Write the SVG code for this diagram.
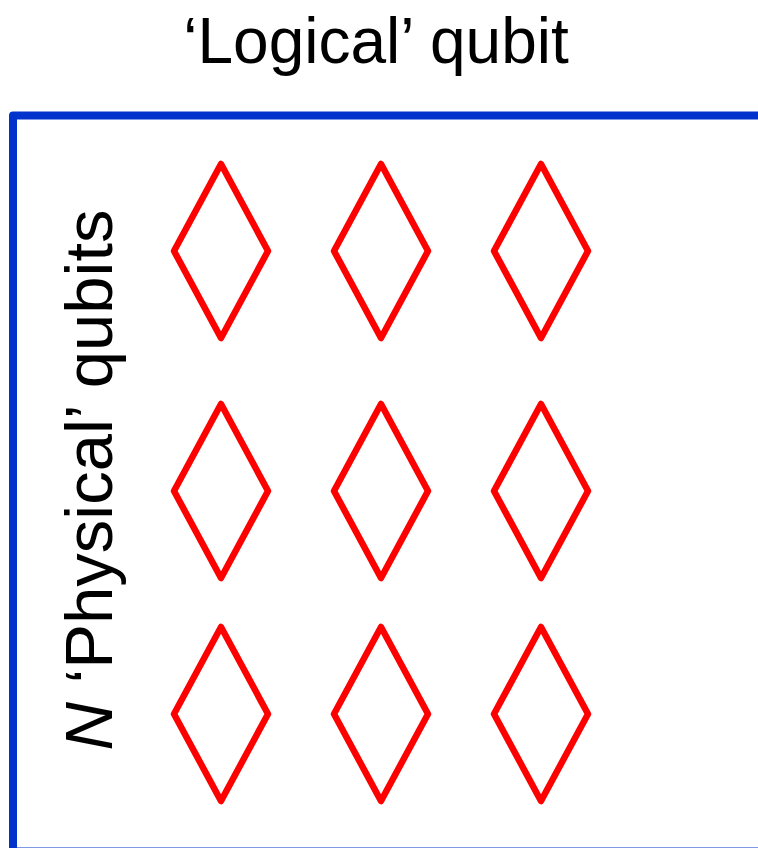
<svg xmlns="http://www.w3.org/2000/svg" width="758" height="848" viewBox="0 0 758 848">
<defs>
<style>
.t{font-family:"Liberation Sans",Arial,sans-serif;fill:#000}
.q{fill:none;stroke:#ff0000;stroke-width:6.5;stroke-linejoin:round}
</style>
<path id="d" class="q" d="M0,-87 L47,0 L0,87 L-47,0 Z"/>
</defs>
<rect width="758" height="848" fill="#fff"/>
<text class="t" x="376" y="63" font-size="64" text-anchor="middle">‘Logical’ qubit</text>
<g id="frame"><rect x="13" y="115.5" width="800" height="736" fill="none" stroke="#0033cc" stroke-width="8" stroke-linejoin="round"/></g>
<text class="t" transform="translate(112,480) rotate(-90)" font-size="67" text-anchor="middle"><tspan font-style="italic">N</tspan> ‘Physical’ qubits</text>
<g id="q11"><use href="#d" x="221" y="251"/></g>
<g id="q12"><use href="#d" x="381" y="251"/></g>
<g id="q13"><use href="#d" x="541" y="251"/></g>
<g id="q21"><use href="#d" x="221" y="491"/></g>
<g id="q22"><use href="#d" x="381" y="491"/></g>
<g id="q23"><use href="#d" x="541" y="491"/></g>
<g id="q31"><use href="#d" x="221" y="714"/></g>
<g id="q32"><use href="#d" x="381" y="714"/></g>
<g id="q33"><use href="#d" x="541" y="714"/></g>
<g id="connectors"></g>
</svg>
